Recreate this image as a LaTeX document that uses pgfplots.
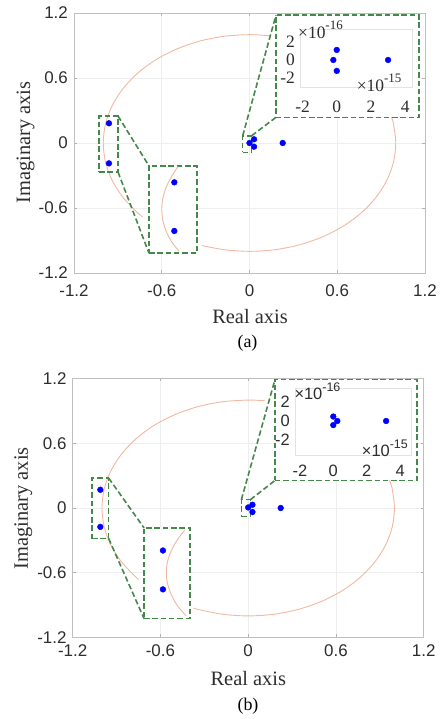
\documentclass[border=0pt]{standalone}
\usepackage{fontspec}
\setmainfont{Liberation Serif}
\newfontfamily\arial{Liberation Sans}
\usepackage{pgfplots}
\pgfplotsset{compat=1.18}

\definecolor{circ}{RGB}{241,184,162}
\definecolor{zg}{RGB}{68,136,74}
\definecolor{tk}{RGB}{45,45,45}

\pgfplotsset{
  mainax/.style={
    scale only axis, anchor=south west,
    width=351bp, height=260bp,
    xmin=-1.2, xmax=1.2, ymin=-1.2, ymax=1.2,
    xtick={-1.2,-0.6,0,0.6,1.2}, ytick={-1.2,-0.6,0,0.6,1.2},
    xticklabels={-1.2,-0.6,0,0.6,1.2}, yticklabels={-1.2,-0.6,0,0.6,1.2},
    grid=major, grid style={gray!13, line width=0.6bp},
    axis line style={gray!50, line width=0.8bp},
    major tick style={gray!60, line width=0.6bp}, major tick length=3bp,
    tick align=inside,
    ticklabel style={font=\arial\fontsize{17}{18}\selectfont, text=tk},
    yticklabel style={anchor=east, inner sep=0pt, xshift=-6bp},
  },
  insax/.style={
    scale only axis, anchor=south west,
    xtick={-2,0,2,4}, ytick={-2,0,2},
    xticklabels={-2,0,2,4}, yticklabels={-2,0,2},
    axis line style={gray!22, line width=0.6bp},
    major tick length=0pt,
    ticklabel style={text=tk},
    yticklabel style={anchor=east, inner sep=0pt, xshift=-5bp},
  },
  zbox/.style={zg, line width=1.6bp, dash pattern=on 5.5bp off 2.8bp},
  arc/.style={circ, line width=0.9bp, smooth},
  pts/.style={only marks, mark=*, mark size=2.9bp, mark options={draw=blue, fill=blue, solid}},
}

\begin{document}
\begin{tikzpicture}
\path[use as bounding box] (0,0) rectangle (440bp,719bp);

% ---------------- (a) ----------------
\begin{axis}[mainax, at={(74bp,446bp)},
  xticklabel style={anchor=base, inner sep=0pt, yshift=-23.7bp}]
% unit circle, cut where the zoom boxes sit
\addplot[arc] coordinates {(-0.326,-0.946) (-0.174,-0.985) (0,-1) (0.174,-0.985) (0.342,-0.940) (0.5,-0.866) (0.643,-0.766) (0.766,-0.643) (0.866,-0.5) (0.940,-0.342) (0.985,-0.174) (1,0) (0.985,0.174) (0.970,0.242)};
\addplot[arc] coordinates {(0.139,0.990) (0,1) (-0.174,0.985) (-0.342,0.940) (-0.5,0.866) (-0.643,0.766) (-0.766,0.643) (-0.866,0.5) (-0.940,0.342) (-0.985,0.174) (-1,0) (-0.985,-0.174) (-0.940,-0.342) (-0.866,-0.5) (-0.766,-0.643) (-0.731,-0.682)};
% zoom boxes
\addplot[zbox, fill=white] coordinates {(0.181,0.237) (1.159,0.237) (1.159,1.18) (0.181,1.18)} -- cycle;
\addplot[zbox, fill=white] coordinates {(-0.687,-1.018) (-0.361,-1.018) (-0.361,-0.212) (-0.687,-0.212)} -- cycle;
\addplot[zbox] coordinates {(-1.029,-0.268) (-0.899,-0.268) (-0.899,0.249) (-1.029,0.249)} -- cycle;
\addplot[zbox] coordinates {(-0.0466,-0.086) (0.015,-0.086) (0.015,0.067) (-0.0466,0.067)} -- cycle;
\addplot[zbox] coordinates {(-0.899,0.249) (-0.687,-0.212)};
\addplot[zbox] coordinates {(-0.899,-0.268) (-0.687,-1.018)};
\addplot[zbox] coordinates {(-0.0466,0.067) (0.181,1.18)};
\addplot[zbox] coordinates {(0.015,0.067) (0.181,0.237)};
% magnified arc
\addplot[arc] coordinates {(-0.490,-0.219) (-0.536,-0.317) (-0.572,-0.415) (-0.593,-0.513) (-0.600,-0.611) (-0.593,-0.709) (-0.572,-0.807) (-0.536,-0.905) (-0.480,-1.003)};
% poles
\addplot[pts] coordinates {(-0.961,0.182) (-0.961,-0.188) (-0.514,-0.363) (-0.514,-0.812) (0,0) (0.031,0.034) (0.031,-0.034) (0.227,0)};
\end{axis}

% inset (a): x in 1e-15, y in 1e-16
\begin{axis}[insax, at={(300bp,631.7bp)}, width=112bp, height=58.3bp,
  xmin=-2.15, xmax=4.4, ymin=-3, ymax=3.4,
  ticklabel style={font=\fontsize{17.5}{18}\selectfont},
  xticklabel style={anchor=base, inner sep=0pt, yshift=-25.2bp}]
\addplot[pts] coordinates {(0,1.1) (-0.2,0) (0,-1.2) (3,0)};
\end{axis}
\node[anchor=base west, inner sep=0pt, text=tk, font=\fontsize{17.5}{18}\selectfont] at (298bp,680.7bp) {×10\raisebox{0.5em}{\fontsize{13}{13}\selectfont -16}};
\node[anchor=base west, inner sep=0pt, text=tk, font=\fontsize{17.5}{18}\selectfont] at (356.7bp,627.3bp) {×10\raisebox{0.5em}{\fontsize{13}{13}\selectfont -15}};

\node[anchor=base, font=\fontsize{20.5}{22}\selectfont, text=tk] at (250bp,395.7bp) {Real axis};
\node[rotate=90, font=\fontsize{20.5}{22}\selectfont, text=tk] at (25.5bp,576.5bp) {Imaginary axis};
\node[font=\fontsize{18}{20}\selectfont] at (247.5bp,375.7bp) {(a)};

% ---------------- (b) ----------------
\begin{axis}[mainax, at={(72.7bp,81.5bp)}, height=259bp,
  xticklabel style={anchor=base, inner sep=0pt, yshift=-19.2bp}]
\addplot[arc] coordinates {(-0.375,-0.927) (-0.342,-0.940) (-0.174,-0.985) (0,-1) (0.174,-0.985) (0.342,-0.940) (0.5,-0.866) (0.643,-0.766) (0.766,-0.643) (0.866,-0.5) (0.940,-0.342) (0.985,-0.174) (1,0) (0.985,0.174) (0.966,0.259)};
\addplot[arc] coordinates {(0.113,0.994) (0,1) (-0.174,0.985) (-0.342,0.940) (-0.5,0.866) (-0.643,0.766) (-0.766,0.643) (-0.866,0.5) (-0.940,0.342) (-0.985,0.174) (-1,0) (-0.985,-0.174) (-0.940,-0.342) (-0.866,-0.5) (-0.766,-0.643) (-0.755,-0.656)};
\addplot[zbox, fill=white] coordinates {(0.183,0.255) (1.154,0.255) (1.154,1.19) (0.183,1.19)} -- cycle;
\addplot[zbox, fill=white] coordinates {(-0.712,-1.025) (-0.4,-1.025) (-0.4,-0.185) (-0.712,-0.185)} -- cycle;
\addplot[zbox] coordinates {(-1.068,-0.283) (-0.954,-0.283) (-0.954,0.277) (-1.068,0.277)} -- cycle;
\addplot[zbox] coordinates {(-0.0466,-0.078) (0.015,-0.078) (0.015,0.077) (-0.0466,0.077)} -- cycle;
\addplot[zbox] coordinates {(-0.954,0.277) (-0.712,-0.185)};
\addplot[zbox] coordinates {(-0.954,-0.283) (-0.712,-1.025)};
\addplot[zbox] coordinates {(-0.0466,0.077) (0.183,1.19)};
\addplot[zbox] coordinates {(0.015,0.077) (0.183,0.255)};
\addplot[arc] coordinates {(-0.432,-0.2) (-0.487,-0.3) (-0.527,-0.4) (-0.552,-0.5) (-0.560,-0.6) (-0.552,-0.7) (-0.527,-0.8) (-0.487,-0.9) (-0.425,-1.0)};
\addplot[pts] coordinates {(-1.011,0.169) (-1.011,-0.175) (-0.583,-0.394) (-0.583,-0.754) (0,0.005) (0.029,0.03) (0.029,-0.037) (0.222,0)};
\end{axis}

% inset (b): x in 1e-15, y in 1e-16
\begin{axis}[insax, at={(295bp,263.3bp)}, width=116.7bp, height=67.4bp,
  xmin=-2.29, xmax=4.69, ymin=-3.65, ymax=3.44,
  ticklabel style={font=\arial\fontsize{16.5}{17}\selectfont},
  xticklabel style={anchor=base, inner sep=0pt, yshift=-21bp}]
\addplot[pts] coordinates {(0,0.47) (0,-0.43) (0.24,0) (3.16,0)};
\end{axis}
\node[anchor=base west, inner sep=0pt, text=tk, font=\arial\fontsize{16.5}{17}\selectfont] at (294.3bp,319bp) {×10\raisebox{0.5em}{\fontsize{12.5}{13}\selectfont -16}};
\node[anchor=base west, inner sep=0pt, text=tk, font=\arial\fontsize{16.5}{17}\selectfont] at (361.7bp,262.3bp) {×10\raisebox{0.5em}{\fontsize{12.5}{13}\selectfont -15}};

\node[anchor=base, font=\fontsize{20.5}{22}\selectfont, text=tk] at (248.3bp,34bp) {Real axis};
\node[rotate=90, font=\fontsize{20.5}{22}\selectfont, text=tk] at (23.3bp,210.7bp) {Imaginary axis};
\node[font=\fontsize{18}{20}\selectfont] at (248bp,13bp) {(b)};
\end{tikzpicture}
\end{document}
